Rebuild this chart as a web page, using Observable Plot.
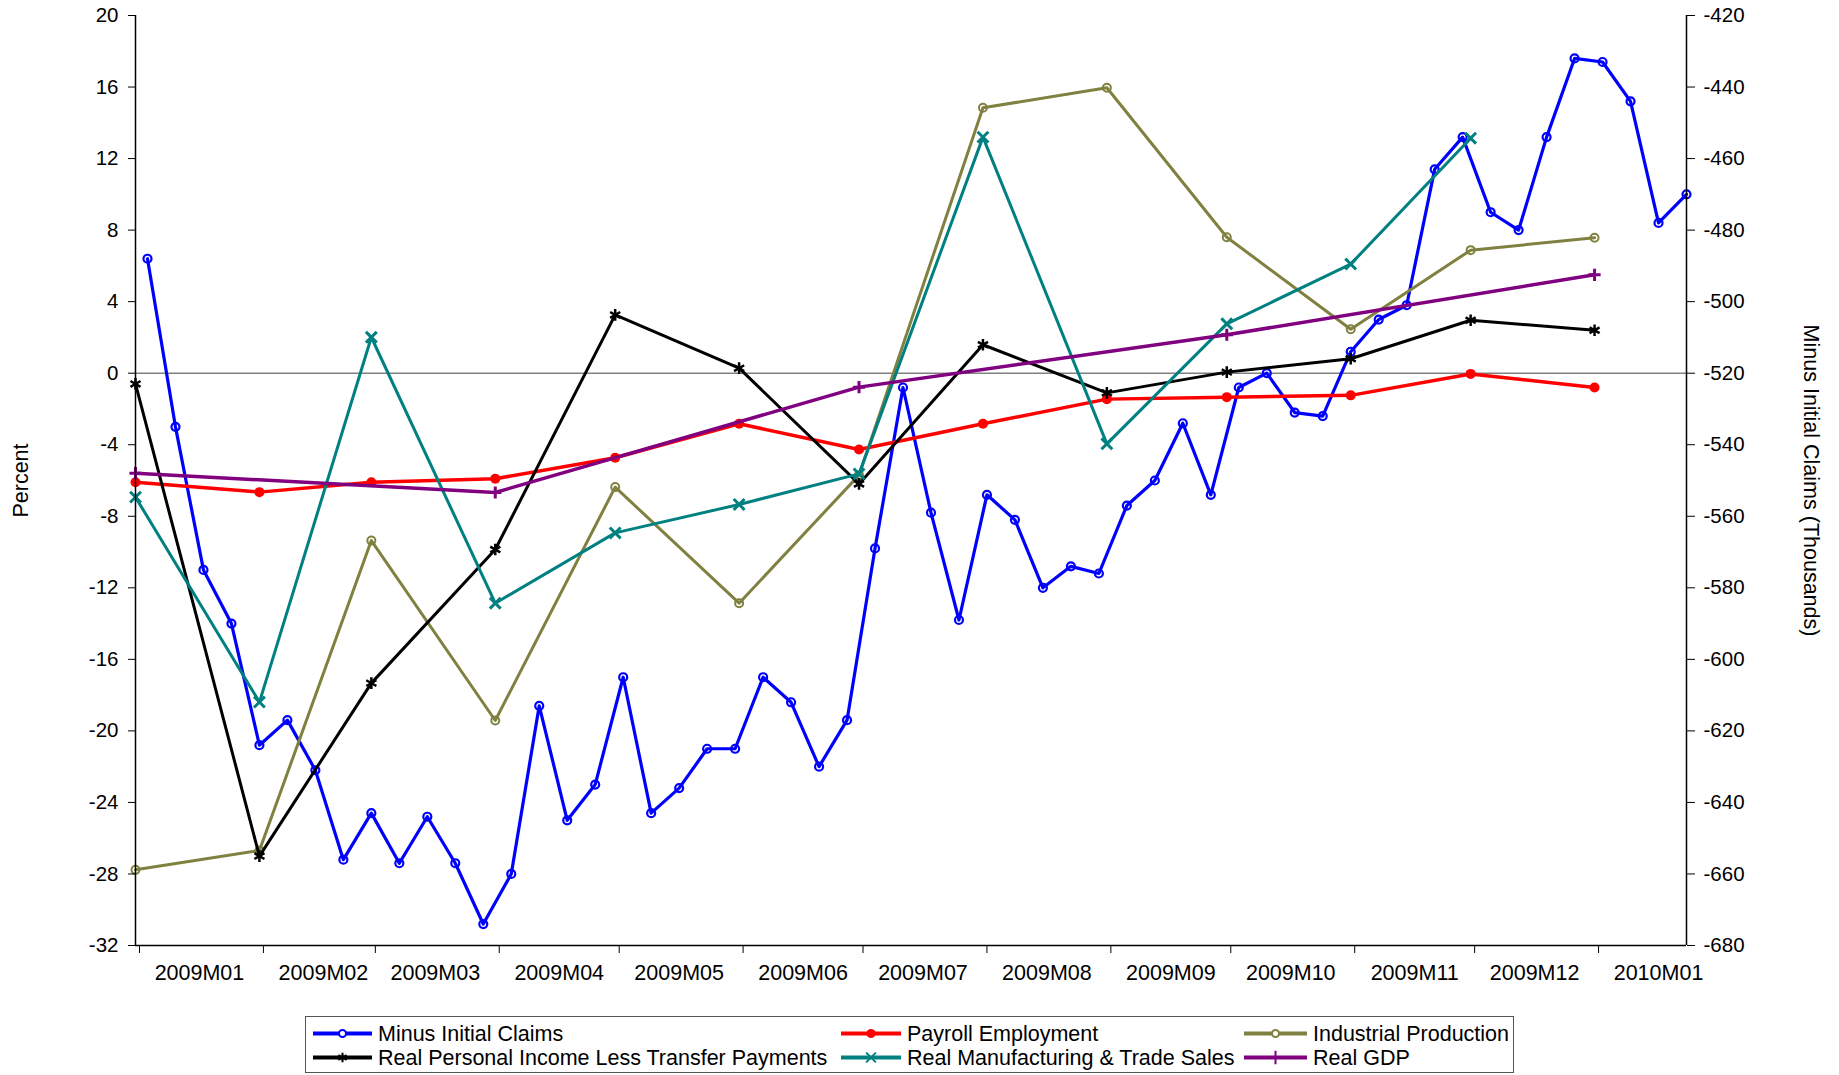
<!DOCTYPE html>
<html><head><meta charset="utf-8">
<script src="https://cdn.jsdelivr.net/npm/d3@7"></script>
<script src="https://cdn.jsdelivr.net/npm/@observablehq/plot@0.6"></script>
<style>
html,body{margin:0;padding:0;background:#fff;}
#wrap{position:relative;width:1839px;height:1075px;font-family:"Liberation Sans",Arial,sans-serif;}
#legend{position:absolute;left:305px;top:1016px;width:1207px;height:55px;border:1px solid #555;background:#fff;}
#legend svg{display:block;}
</style></head>
<body><div id="wrap"><div id="chart"></div><div id="legend"></div></div>
<script>
// ---- Weekly: Minus Initial Claims (thousands, right axis) ----
const weekDates = ["2009-01-03","2009-01-10","2009-01-17","2009-01-24","2009-01-31","2009-02-07","2009-02-14","2009-02-21","2009-02-28",
"2009-03-07","2009-03-14","2009-03-21","2009-03-28","2009-04-04","2009-04-11","2009-04-18","2009-04-25","2009-05-02","2009-05-09",
"2009-05-16","2009-05-23","2009-05-30","2009-06-06","2009-06-13","2009-06-20","2009-06-27","2009-07-04","2009-07-11","2009-07-18",
"2009-07-25","2009-08-01","2009-08-08","2009-08-15","2009-08-22","2009-08-29","2009-09-05","2009-09-12","2009-09-19","2009-09-26",
"2009-10-03","2009-10-10","2009-10-17","2009-10-24","2009-10-31","2009-11-07","2009-11-14","2009-11-21","2009-11-28","2009-12-05",
"2009-12-12","2009-12-19","2009-12-26","2010-01-02","2010-01-09","2010-01-16","2010-01-23"];
const minusInitialClaims = [-488,-535,-575,-590,-624,-617,-631,-656,-643,-657,-644,-657,-674,-660,-613,-645,-635,-605,-643,-636,
-625,-625,-605,-612,-630,-617,-569,-524,-559,-589,-554,-561,-580,-574,-576,-557,-550,-534,-554,-524,-520,-531,-532,-514,-505,-501,
-463,-454,-475,-480,-454,-432,-433,-444,-478,-470];

// ---- Monthly series (percent, left axis) ----
const monthDates = ["2008-12-31","2009-01-31","2009-02-28","2009-03-31","2009-04-30","2009-05-31","2009-06-30","2009-07-31",
"2009-08-31","2009-09-30","2009-10-31","2009-11-30","2009-12-31"];
const payrollEmployment = [-6.1,-6.65,-6.1,-5.9,-4.73,-2.83,-4.27,-2.83,-1.45,-1.34,-1.24,-0.04,-0.8];
const industrialProduction = [-27.77,-26.69,-9.36,-19.42,-6.37,-12.86,-5.7,14.84,15.96,7.6,2.46,6.88,7.57];
const realPersonalIncome = [-0.6,-27.0,-17.33,-9.86,3.26,0.28,-6.19,1.59,-1.1,0.06,0.81,2.96,2.4];
const realMfgTradeSales = [-6.93,-18.39,2.01,-12.86,-8.93,-7.34,-5.63,13.2,-3.95,2.76,6.1,13.14];

// ---- Quarterly: Real GDP (percent) ----
const quarterDates = ["2008-12-31","2009-03-31","2009-06-30","2009-09-30","2009-12-31"];
const realGDP = [-5.59,-6.67,-0.78,2.15,5.5];

// ---- Axes ----
const leftTicks = [-32,-28,-24,-20,-16,-12,-8,-4,0,4,8,12,16,20];
const rightTicks = [-680,-660,-640,-620,-600,-580,-560,-540,-520,-500,-480,-460,-440,-420];
const monthStarts = ["2009-01-01","2009-02-01","2009-03-01","2009-04-01","2009-05-01","2009-06-01","2009-07-01","2009-08-01",
"2009-09-01","2009-10-01","2009-11-01","2009-12-01","2010-01-01"];
const monthLabels = ["2009M01","2009M02","2009M03","2009M04","2009M05","2009M06","2009M07","2009M08","2009M09","2009M10",
"2009M11","2009M12","2010M01"];
const xDomain = ["2008-12-31","2010-01-23"];

const seriesNames = ["Minus Initial Claims","Payroll Employment","Industrial Production",
"Real Personal Income Less Transfer Payments","Real Manufacturing & Trade Sales","Real GDP"];
const seriesColors = ["#0000ff","#ff0000","#808040","#000000","#008080","#800080"];
const seriesSymbols = ["circle","circle","circle","asterisk","times","plus"];

// right axis (thousands) -> left axis (percent): -520 <-> 0, 20 thousand per 4 percent
const toPct = v => (v + 520) / 5;
const D = s => new Date(s);

const claimsRows = weekDates.map((d, i) => ({date: D(d), y: toPct(minusInitialClaims[i])}));
const mk = (dates, vals) => vals.map((v, i) => ({date: D(dates[i]), y: v}));
const payRows = mk(monthDates, payrollEmployment);
const ipRows = mk(monthDates, industrialProduction);
const rpiRows = mk(monthDates, realPersonalIncome);
const mtsRows = mk(monthDates, realMfgTradeSales);
const gdpRows = mk(quarterDates, realGDP);
const labelRows = monthStarts.map((s, i) => ({date: d3.utcDay.offset(D(s), 15), label: monthLabels[i]}));

const [cBlue, cRed, cOlive, cBlack, cTeal, cPurple] = seriesColors;
const yDomain = [leftTicks[0], leftTicks[leftTicks.length - 1]];

const chart = Plot.plot({
  width: 1839, height: 1010,
  marginTop: 15, marginBottom: 65, marginLeft: 135, marginRight: 153,
  style: {fontFamily: "'Liberation Sans', Arial, sans-serif", fontSize: "20.5px", background: "white", color: "black"},
  x: {type: "utc", domain: xDomain.map(D)},
  y: {domain: yDomain},
  marks: [
    Plot.ruleY([0], {stroke: "#808080", strokeWidth: 1.5}),
    Plot.line(claimsRows, {x: "date", y: "y", stroke: cBlue, strokeWidth: 3.2}),
    Plot.dot(claimsRows, {x: "date", y: "y", r: 4, stroke: cBlue, fill: "none", strokeWidth: 2.2}),
    Plot.line(payRows, {x: "date", y: "y", stroke: cRed, strokeWidth: 3.5}),
    Plot.dot(payRows, {x: "date", y: "y", r: 5, fill: cRed, stroke: "none"}),
    Plot.line(ipRows, {x: "date", y: "y", stroke: cOlive, strokeWidth: 3}),
    Plot.dot(ipRows, {x: "date", y: "y", r: 4, stroke: cOlive, fill: "none", strokeWidth: 2}),
    Plot.line(rpiRows, {x: "date", y: "y", stroke: cBlack, strokeWidth: 3}),
    Plot.dot(rpiRows, {x: "date", y: "y", r: 5.5, symbol: "asterisk", stroke: cBlack, fill: "none", strokeWidth: 2.5}),
    Plot.line(mtsRows, {x: "date", y: "y", stroke: cTeal, strokeWidth: 3}),
    Plot.dot(mtsRows, {x: "date", y: "y", r: 5, symbol: "times", stroke: cTeal, fill: "none", strokeWidth: 3}),
    Plot.line(gdpRows, {x: "date", y: "y", stroke: cPurple, strokeWidth: 3.5}),
    Plot.dot(gdpRows, {x: "date", y: "y", r: 4, symbol: "plus", stroke: cPurple, fill: "none", strokeWidth: 3}),
    // axis lines: left, right, bottom
    Plot.ruleX(xDomain.map(D), {stroke: "black", strokeWidth: 1.5}),
    Plot.ruleY([yDomain[0]], {stroke: "black", strokeWidth: 1.5}),
    Plot.axisY({anchor: "left", ticks: leftTicks, tickSize: 7, tickPadding: 10, label: null,
      tickFormat: d => String(d), fontSize: 20.5}),
    Plot.axisY({anchor: "right", ticks: rightTicks.map(toPct), tickSize: 8, tickPadding: 9, label: null,
      tickFormat: d => String(Math.round(d * 5 - 520)), fontSize: 20.5}),
    Plot.axisX(monthStarts.map(D), {tickSize: 8, tickFormat: () => "", label: null}),
    Plot.text(labelRows, {x: "date", text: "label", frameAnchor: "bottom", dy: 28, lineAnchor: "middle", textAnchor: "middle", fontSize: 21.5, fill: "black"}),
    Plot.text(["Percent"], {frameAnchor: "left", dx: -114, rotate: -90, textAnchor: "middle", lineAnchor: "middle", fontSize: 21.5, fill: "black"}),
    Plot.text(["Minus Initial Claims (Thousands)"], {frameAnchor: "right", dx: 124, rotate: 90, textAnchor: "middle", lineAnchor: "middle", fontSize: 21.5, fill: "black"})
  ]
});
document.getElementById("chart").appendChild(chart);

// ---- Legend ----
const symType = {circle: d3.symbolCircle, asterisk: d3.symbolAsterisk, times: d3.symbolTimes, plus: d3.symbolPlus};
const lg = d3.select("#legend").append("svg").attr("width", 1207).attr("height", 55)
  .style("font-family", "'Liberation Sans', Arial, sans-serif").style("font-size", "21.5px");
const colSwatch = [[7, 66], [535, 595], [938, 1001]];
const rowY = [16.5, 40.5];
seriesNames.forEach((name, i) => {
  const c = i % 3, r = Math.floor(i / 3);
  const [x0, x1] = colSwatch[c];
  const y = rowY[r];
  const g = lg.append("g");
  g.append("line").attr("x1", x0).attr("x2", x1).attr("y1", y).attr("y2", y)
    .attr("stroke", seriesColors[i]).attr("stroke-width", 4);
  const sym = seriesSymbols[i];
  const filled = i === 1;
  const rad = i === 1 ? 4.5 : (sym === "circle" ? 3.5 : 4.5);
  g.append("path").attr("transform", `translate(${(x0 + x1) / 2},${y})`)
    .attr("d", d3.symbol(symType[sym], Math.PI * rad * rad)())
    .attr("fill", filled ? seriesColors[i] : (sym === "circle" ? "white" : "none"))
    .attr("stroke", filled ? "none" : seriesColors[i]).attr("stroke-width", 2);
  g.append("text").attr("x", x1 + 6).attr("y", y).attr("dy", "0.35em").attr("fill", "black").text(name);
});
</script>
</body></html>
